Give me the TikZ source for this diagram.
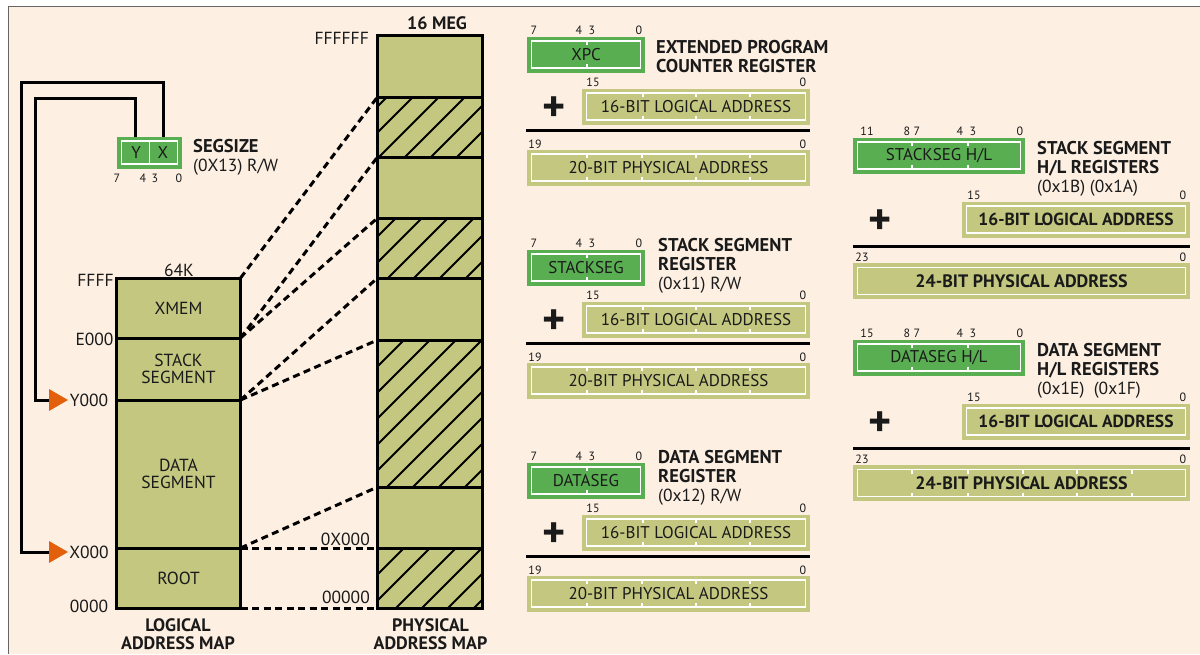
\documentclass[tikz,border=0pt]{standalone}
\usepackage{fontspec}
\setmainfont{PT Sans}
\definecolor{bgc}{HTML}{FDF0E3}
\definecolor{olv}{HTML}{C3C77F}
\definecolor{grn}{HTML}{5AAE52}
\definecolor{org}{HTML}{E2600C}
\definecolor{ink}{HTML}{1A1A1A}
\newcommand\fmap{\fontsize{17.5}{17}\selectfont}
\newcommand\ftxt{\fontsize{17}{18}\selectfont}
\newcommand\fttl{\fontsize{18.5}{19}\selectfont\bfseries}
\newcommand\fbit{\fontsize{12}{12}\selectfont}
\newcommand\tk[2]{\foreach \xx in {#2}{\draw[tkl] (\xx,#1-13.5) -- ++(0,4); \draw[tkl] (\xx,#1+13.5) -- ++(0,-4);}}
\begin{document}
\begin{tikzpicture}[x=1pt,y=-1pt,
 every node/.style={text=ink},
 seg/.style={draw=black,line width=3pt,fill=olv,minimum width=124pt,inner sep=0pt,outer sep=0pt,font=\fmap,align=center},
 pseg/.style={draw=black,line width=3pt,fill=olv,minimum width=105pt,inner sep=0pt,outer sep=0pt},
 mapline/.style={draw=black,line width=3pt},
 hatch/.style={line width=2pt,black},
 dsh/.style={line width=3pt,dash pattern=on 7pt off 4.5pt,black},
 wire/.style={line width=3pt,black},
 box/.style={fill=olv,draw=white,line width=1.8pt,preaction={draw=olv,line width=9pt},inner sep=0pt,minimum height=27pt,font=\ftxt},
 reg/.style={fill=grn,draw=white,line width=1.8pt,preaction={draw=grn,line width=9pt},inner sep=0pt,minimum height=27pt,font=\ftxt},
 tkl/.style={white,line width=2pt},
 bit/.style={font=\fbit,inner sep=0pt},
 ttl/.style={font=\fttl,anchor=base west,inner sep=0pt},
 ttr/.style={font=\fontsize{17.5}{18}\selectfont,anchor=base west,inner sep=0pt},
 lab/.style={font=\fmap,inner sep=0pt},
 blab/.style={font=\fontsize{18}{18.5}\selectfont\bfseries,inner sep=0pt,align=center},
 sepl/.style={line width=3pt,black},
 plus/.style={font=\fontsize{44}{44}\selectfont\bfseries,inner sep=0pt}
]
\useasboundingbox (0,0) rectangle (1200,654);
\fill[white] (0,0) rectangle (1200,654);
\fill[bgc] (8,6) rectangle (1200,654);
\draw[black!60,line width=1pt] (8,654) -- (8,6) -- (1200,6);

% ---------- logical map ----------
\node[seg,minimum height=60pt] (xmem) at (178.5,308) {XMEM};
\node[seg,minimum height=62pt] (stack) at (178.5,369) {STACK\\SEGMENT};
\node[seg,minimum height=148pt] (data) at (178.5,474) {DATA\\SEGMENT};
\node[seg,minimum height=60pt] (root) at (178.5,578) {ROOT};
\node[lab] (k64) at (179,270) {64K};
\node[lab] (lffff) at (95.5,280) {FFFF};
\node[lab] (le000) at (94.5,339) {E000};
\node[lab] (ly000) at (89,400) {Y000};
\node[lab] (lx000) at (89,552) {X000};
\node[lab] (l0000) at (89,606) {0000};
\node[blab] (lm) at (178,634) {LOGICAL\\ADDRESS MAP};

% ---------- physical map ----------
\node[pseg,minimum height=62pt] (p1) at (430,66) {};
\node[pseg,minimum height=60pt] (p2) at (430,127) {};
\node[pseg,minimum height=61pt] (p3) at (430,187.5) {};
\node[pseg,minimum height=60pt] (p4) at (430,248) {};
\node[pseg,minimum height=62pt] (p5) at (430,309) {};
\node[pseg,minimum height=147pt] (p6) at (430,413.5) {};
\node[pseg,minimum height=61pt] (p7) at (430,517.5) {};
\node[pseg,minimum height=60pt] (p8) at (430,578) {};
\foreach \n in {p2,p4,p6,p8}{
 \begin{scope}
 \clip (\n.north west) rectangle (\n.south east);
 \foreach \k in {17,...,43} \draw[hatch] ({16+26*\k-700},700) -- ({16+26*\k},0);
 \end{scope}}
\foreach \i in {1,...,8} \draw[mapline] (p\i.north west) rectangle (p\i.south east);
\node[blab] (meg) at (437,23) {16 MEG};
\node[lab,anchor=east] (pff) at (369,38) {FFFFFF};
\node[lab,anchor=east] (p0x) at (370,539) {0X000};
\node[lab,anchor=east] (p00) at (370,597) {00000};
\node[blab] (pm) at (430.5,634) {PHYSICAL\\ADDRESS MAP};

% ---------- mapping lines ----------
\draw[dsh] (xmem.north east) -- (p2.north west);
\draw[dsh] (xmem.south east) -- (p2.south west);
\draw[dsh] (xmem.south east) -- (p4.north west);
\draw[dsh] (stack.south east) -- (p4.south west);
\draw[dsh] (stack.south east) -- (p6.north west);
\draw[dsh] (data.south east) -- (p6.south west);
\draw[dsh] (root.north east) -- (p8.north west);
\draw[dsh] (root.south east) -- (p8.south west);

% ---------- SEGSIZE ----------
\coordinate (cy) at (135,152);
\coordinate (cx) at (163,152);
\coordinate (ay) at (49,400);
\coordinate (ax) at (49,552);
\draw[wire] (cx) |- (21,82) |- (ax);
\draw[wire] (cy) |- (35,98) |- (ay);
\fill[org] (49,389) -- (49,411) -- (68,400) -- cycle;
\fill[org] (49,541) -- (49,563) -- (68,552) -- cycle;
\node[reg,minimum width=56pt,minimum height=23pt] (segsize) at (149.5,152.5) {};
\draw[white,line width=1.8pt] (segsize.north) -- (segsize.south);
\node[font=\ftxt,inner sep=0pt] (ty) at (136,153) {Y};
\node[font=\ftxt,inner sep=0pt] (tx) at (163,153) {X};
\node[bit] at (117,178) {7};
\node[bit] at (143,178) {4};
\node[bit] at (155,178) {3};
\node[bit] at (179,178) {0};
\node[ttl] (tseg) at (193,152) {SEGSIZE};
\node[ttr] (tseg2) at (193,171) {(0X13) R/W};

% ---------- middle column ----------
\foreach \d/\rt/\n in {0/XPC/a,213/STACKSEG/b,426/DATASEG/c}{
 \node[reg,minimum width=109pt] (r\n) at (586,54.5+\d) {\rt};
 \tk{54.5+\d}{587}
 \node[bit] at (534,30+\d) {7};
 \node[bit] at (579,30+\d) {4};
 \node[bit] at (592,30+\d) {3};
 \node[bit] at (639,30+\d) {0};
 \node[plus] (plus\n) at (554,109+\d) {+};
 \node[box,minimum width=219pt] (l\n) at (696,106.5+\d) {16-BIT LOGICAL ADDRESS};
 \tk{106.5+\d}{643,696,750}
 \node[bit] at (593,82+\d) {15};
 \node[bit] at (803,82+\d) {0};
 \draw[sepl] (526,130+\d) -- (810,130+\d);
 \node[box,minimum width=274pt] (ph\n) at (668.5,167.5+\d) {20-BIT PHYSICAL ADDRESS};
 \tk{167.5+\d}{587,642,696,750}
 \node[bit] at (535,144+\d) {19};
 \node[bit] at (803,144+\d) {0};
}
\node[ttl] at (656,53) {EXTENDED PROGRAM};
\node[ttl] at (656,72) {COUNTER REGISTER};
\node[ttl] at (658,251) {STACK SEGMENT};
\node[ttl] at (658,270) {REGISTER};
\node[ttr] at (658,289) {(0x11) R/W};
\node[ttl] at (658,463) {DATA SEGMENT};
\node[ttl] at (658,482) {REGISTER};
\node[ttr] at (658,501) {(0x12) R/W};

% ---------- right column ----------
\foreach \e/\rt/\hb/\n in {0/{STACKSEG H/L}/11/d,202/{DATASEG H/L}/15/e}{
 \node[reg,minimum width=163pt] (r\n) at (939,155.5+\e) {\rt};
 \tk{155.5+\e}{912,968}
 \node[bit] at (867,131+\e) {\hb};
 \node[bit] at (907,131+\e) {8};
 \node[bit] at (917,131+\e) {7};
 \node[bit] at (960,131+\e) {4};
 \node[bit] at (973,131+\e) {3};
 \node[bit] at (1020,131+\e) {0};
 \node[plus] (plus\n) at (880,222+\e) {+};
 \node[box,minimum width=219pt,font=\fontsize{17.5}{18}\selectfont\bfseries] (l\n) at (1076,219.5+\e) {16-BIT LOGICAL ADDRESS};
 \node[bit] at (974,195.5+\e) {15};
 \node[bit] at (1183,195.5+\e) {0};
 \draw[sepl] (853,246+\e) -- (1190,246+\e);
 \node[box,minimum width=328pt,font=\fontsize{18}{18}\selectfont\bfseries] (ph\n) at (1021.5,281+\e) {24-BIT PHYSICAL ADDRESS};
 \node[bit] at (862,257+\e) {23};
 \node[bit] at (1183,257+\e) {0};
}
\tk{483}{912,968,1023,1077,1132}
\node[ttl] at (1037,154) {STACK SEGMENT};
\node[ttl] at (1037,173) {H/L REGISTERS};
\node[ttr] at (1037,192) {(0x1B) (0x1A)};
\node[ttl] at (1037,356) {DATA SEGMENT};
\node[ttl] at (1037,375) {H/L REGISTERS};
\node[ttr] at (1037,394) {(0x1E)\ \ (0x1F)};
\end{tikzpicture}
\end{document}
